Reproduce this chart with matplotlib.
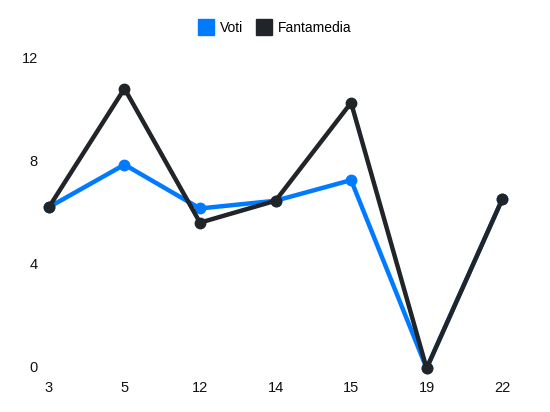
import matplotlib
matplotlib.use('Agg')
import matplotlib.pyplot as plt
from matplotlib.lines import Line2D

giornate = ['3', '5', '12', '14', '15', '19', '22']
voti = [6.25, 7.9, 6.2, 6.5, 7.3, 0, 6.55]
fantamedia = [6.25, 10.85, 5.65, 6.5, 10.3, 0, 6.55]
y_ticks = [0, 4, 8, 12]

blue = '#007bff'
dark = '#212529'


def main():
    plt.rcParams['font.family'] = ['Liberation Sans', 'DejaVu Sans']

    fig = plt.figure(figsize=(5.5, 4.12), dpi=100)
    ax = fig.add_axes([0.089, 0.106, 0.824, 0.751])

    x = range(len(giornate))
    ax.plot(x, voti, color=blue, linewidth=3.2, marker='o', markersize=7.5,
            solid_capstyle='round', zorder=2, clip_on=False)
    ax.plot(x, fantamedia, color=dark, linewidth=3.2, marker='o', markersize=7.5,
            solid_capstyle='round', zorder=3, clip_on=False)

    ax.set_xlim(0, len(giornate) - 1)
    ax.set_ylim(0, 12)
    ax.set_xticks(list(x))
    ax.set_xticklabels(giornate, fontsize=10.5, color='#111111')
    ax.set_yticks(y_ticks)
    ax.set_yticklabels([str(v) for v in y_ticks], fontsize=10.5, color='#111111')
    ax.tick_params(axis='both', length=0)
    ax.tick_params(axis='x', pad=9)
    ax.tick_params(axis='y', pad=8)
    for s in ax.spines.values():
        s.set_visible(False)
    for lab in ax.get_yticklabels():
        lab.set_verticalalignment('center')

    handles = [Line2D([], [], linestyle='none', marker='s', markersize=11,
                      markerfacecolor=blue, markeredgecolor=blue),
               Line2D([], [], linestyle='none', marker='s', markersize=11,
                      markerfacecolor=dark, markeredgecolor=dark)]
    fig.legend(handles, ['Voti', 'Fantamedia'], loc='center', bbox_to_anchor=(0.5, 0.932),
               ncol=2, frameon=False, fontsize=10, handlelength=1.0, handletextpad=0.5,
               columnspacing=1.0)

    fig.savefig('out.png', dpi=100)


if __name__ == '__main__':
    main()
